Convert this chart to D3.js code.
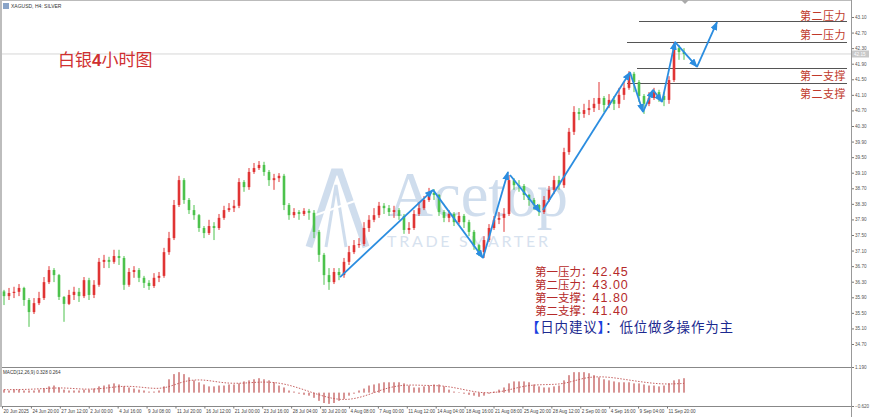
<!DOCTYPE html>
<html><head><meta charset="utf-8">
<script src="https://cdn.jsdelivr.net/npm/d3@7"></script>
<style>body{margin:0;background:#fff;} svg{display:block;}</style>
</head><body><svg id="c" width="870" height="417"></svg>
<script>
// ---------- data ----------
const symbolInfo = "XAGUSD, H4: SILVER";
const titleParts = ["白银", "4", "小时图"];
const firstOpen = 36.05;
const closes = [35.93,36.01,36.04,36.14,35.83,35.52,35.75,35.88,36.29,36.60,
 36.47,35.91,35.73,35.96,36.04,35.93,36.34,35.96,36.22,36.81,
 36.86,36.81,36.96,36.91,36.22,36.55,36.60,36.40,36.27,36.19,
 36.40,36.45,37.06,37.42,38.27,38.91,38.40,38.14,38.01,37.68,
 37.55,37.73,37.68,37.94,38.14,38.19,38.25,38.86,38.73,39.12,
 39.22,39.30,39.12,38.91,38.96,39.02,38.27,38.01,38.09,38.04,
 38.12,38.07,37.58,36.99,36.47,36.29,36.55,36.47,36.81,37.06,
 37.24,37.27,37.68,37.89,38.01,38.25,38.19,38.09,38.14,37.99,
 37.63,37.68,38.04,38.19,38.40,38.58,38.53,38.09,37.94,38.04,
 37.83,37.99,37.83,37.58,37.24,37.06,37.37,37.68,37.89,37.94,
 38.04,38.91,38.78,38.76,38.53,38.40,38.27,38.09,38.40,38.66,
 38.91,38.78,39.63,40.15,40.66,40.61,40.71,40.76,40.87,41.02,
 40.84,40.97,40.87,41.10,41.28,41.64,41.43,41.07,40.87,41.02,
 41.17,41.07,40.97,41.48,42.30,42.20,42.15];
const highs = [36.09,36.14,36.17,36.24,36.17,35.88,35.88,36.04,36.42,36.70,
 36.65,36.50,35.93,36.09,36.17,36.14,36.42,36.40,36.34,36.91,
 36.99,36.94,37.12,37.12,36.96,36.65,36.70,36.65,36.45,36.34,
 36.52,36.55,37.17,37.58,38.40,39.02,38.96,38.45,38.27,38.04,
 37.73,37.89,37.83,38.04,38.25,38.32,38.40,38.96,38.91,39.22,
 39.35,39.40,39.38,39.17,39.07,39.09,39.07,38.32,38.19,38.14,
 38.19,38.17,38.14,37.63,37.04,36.65,36.65,36.65,36.91,37.22,
 37.37,37.42,37.83,38.01,38.19,38.35,38.32,38.27,38.25,38.19,
 38.04,37.83,38.14,38.35,38.50,38.71,38.68,38.55,38.14,38.14,
 38.09,38.09,38.04,37.89,37.63,37.27,37.47,37.78,37.99,38.09,
 38.19,39.04,38.96,38.91,38.81,38.55,38.45,38.30,38.50,38.76,
 39.02,39.02,39.74,40.25,40.81,40.76,40.87,40.97,41.02,41.43,
 41.07,41.12,41.07,41.28,41.43,41.71,41.69,41.48,41.12,41.17,
 41.28,41.23,41.17,41.58,42.46,42.38,42.30];
const lows = [35.70,35.83,35.88,35.93,35.68,35.14,35.47,35.70,35.83,36.24,
 36.29,35.83,35.27,35.70,35.83,35.78,35.88,35.83,35.88,36.17,
 36.65,36.65,36.76,36.73,36.09,36.17,36.40,36.29,36.14,36.09,
 36.14,36.29,36.40,36.99,37.37,38.22,38.30,38.04,37.89,37.58,
 37.42,37.50,37.37,37.63,37.89,38.09,38.09,38.19,38.61,38.66,
 39.07,39.17,39.02,38.76,38.66,38.86,38.14,37.89,37.94,37.89,
 37.99,37.89,37.42,36.81,36.22,36.09,36.24,36.34,36.40,36.73,
 37.01,37.17,37.22,37.58,37.83,37.94,38.04,37.99,37.94,37.89,
 37.53,37.53,37.63,37.99,38.14,38.35,38.40,37.99,37.83,37.83,
 37.73,37.78,37.68,37.47,37.12,36.96,36.91,37.32,37.63,37.78,
 37.58,37.99,38.66,38.61,38.40,38.25,38.14,37.99,38.04,38.35,
 38.55,38.66,38.71,39.56,40.07,40.45,40.51,40.58,40.66,40.71,
 40.66,40.76,40.71,40.76,40.97,41.23,41.17,40.92,40.61,40.81,
 40.97,40.92,40.81,40.87,41.43,42.00,42.00];
const macdHist = [0.14,0.10,0.14,0.14,0.10,0.10,0.10,0.14,0.19,0.29,
 0.33,0.24,0.14,0.10,0.10,0.10,0.14,0.14,0.19,0.29,
 0.33,0.38,0.43,0.38,0.29,0.24,0.19,0.14,0.10,0.05,
 0.05,0.10,0.29,0.62,0.86,0.95,0.86,0.71,0.57,0.48,
 0.38,0.29,0.29,0.33,0.33,0.38,0.38,0.43,0.52,0.57,
 0.62,0.67,0.62,0.57,0.48,0.33,0.24,0.10,0.05,-0.05,
 -0.10,-0.14,-0.24,-0.38,-0.48,-0.52,-0.48,-0.38,-0.29,-0.14,
 -0.05,0.10,0.19,0.33,0.38,0.43,0.48,0.48,0.48,0.48,
 0.43,0.33,0.24,0.24,0.29,0.33,0.38,0.38,0.29,0.14,
 0.05,0.02,-0.05,-0.10,-0.14,-0.19,-0.14,-0.05,0.05,0.14,
 0.24,0.43,0.52,0.52,0.52,0.48,0.38,0.29,0.24,0.24,
 0.29,0.33,0.57,0.81,0.95,0.95,0.95,0.90,0.81,0.71,
 0.62,0.57,0.52,0.48,0.48,0.48,0.43,0.43,0.38,0.33,
 0.33,0.29,0.33,0.43,0.57,0.62,0.67];
const signalStep = 4;
const macdSignal = [0.14,0.14,0.19,0.24,0.14,0.19,0.33,0.24,0.14,0.57,0.62,0.43,0.43,0.52,0.43,0.14,-0.19,-0.38,-0.19,0.19,0.38,0.33,0.33,0.14,-0.05,0.05,0.33,0.38,0.38,0.71,0.76,0.62,0.48,0.38,0.43];
const macdInfo = "MACD(12,26,9) 0.328 0.264";
const macdTicks = [1.19, -0.62];
const priceTicks = [43.10,42.70,42.30,41.90,41.50,41.10,40.70,40.30,39.90,39.50,39.10,38.70,38.30,37.90,37.50,37.10,36.70,36.30,35.90,35.50,35.10,34.70];
const currentPrice = 42.15;
const dateLabels = ["20 Jun 2025","24 Jun 20:00","27 Jun 12:00","2 Jul 00:00","4 Jul 16:00","9 Jul 08:00","11 Jul 20:00","16 Jul 12:00","21 Jul 00:00","23 Jul 16:00","28 Jul 04:00","30 Jul 20:00","4 Aug 08:00","7 Aug 00:00","11 Aug 12:00","14 Aug 04:00","18 Aug 16:00","21 Aug 08:00","25 Aug 20:00","28 Aug 12:00","2 Sep 00:00","4 Sep 16:00","9 Sep 04:00","11 Sep 20:00"];
const levels = [43.00, 42.45, 41.80, 41.40];
const levelNames = ["第二压力", "第一压力", "第一支撑", "第二支撑"];
const levelStartBar = [127, 124.6, 126.6, 124.6];
// arrows: [fromBar, fromPrice, toBar, toPrice]
const arrows = [
 [67.2,36.42,85.8,38.66],[85.8,38.66,95.8,36.91],[95.8,36.91,100.8,39.12],
 [101.2,39.04,107.2,38.09],[107.8,38.14,125.2,41.68],[125.2,41.68,127.8,40.66],
 [127.8,40.66,129.8,41.23],[129.8,41.23,131.6,40.92],[131.6,40.92,134.2,42.46],
 [134.2,42.46,138.6,41.82],[138.6,41.82,142.6,42.97]];
const boxLabels = ["第一压力：","第二压力：","第一支撑：","第二支撑："];
const boxValues = ["42.45","43.00","41.80","41.40"];
const adviceParts = ["【","日内建议","】","：低位做多操作为主"];
const wmMain = "Acetop", wmSub = "TRADE SMARTER";

// ---------- drawing ----------
const svg = d3.select("#c");
const W = 870, H = 417, axisX = 851;
const x = d3.scaleLinear().domain([0, closes.length - 1]).range([4, 684]);
const y = d3.scaleLinear().domain([34.70, 43.10]).range([344, 17]);
const ym = d3.scaleLinear().domain([-0.62, 1.19]).range([406, 367]);
const xd = d3.scalePoint().domain(dateLabels).range([2, 667]);
const cjk = "'Liberation Sans', 'Noto Sans CJK SC', sans-serif";

svg.append("rect").attr("width", W).attr("height", H).attr("fill", "#fff");

// watermark
const wm = svg.append("g").attr("opacity", 0.55);
wm.append("path").attr("d", "M309,247 L334,172 L340,172 L366,247").attr("fill", "none")
  .attr("stroke", "#a9c2e0").attr("stroke-width", 7);
wm.append("path").attr("d", "M326,247 L336,185 L346,247").attr("fill", "none")
  .attr("stroke", "#a9c2e0").attr("stroke-width", 3);
wm.append("path").attr("d", "M316,215 L366,197").attr("stroke", "#fff").attr("stroke-width", 2);
wm.append("text").attr("x", 388).attr("y", 216).attr("font-family", "Liberation Serif")
  .attr("font-size", 64).attr("fill", "#a9c2e0").attr("textLength", 180)
  .attr("lengthAdjust", "spacingAndGlyphs").text(wmMain);
wm.append("text").attr("x", 387).attr("y", 247).attr("font-family", "Lato")
  .attr("font-size", 16).attr("fill", "#b7cbe3").attr("textLength", 161)
  .attr("lengthAdjust", "spacing").text(wmSub);

// current price line
svg.append("line").attr("x1", 2).attr("x2", axisX).attr("y1", y(currentPrice)).attr("y2", y(currentPrice))
  .attr("stroke", "#d6d6d6").attr("stroke-width", 1);

// level lines
levels.forEach((lv, k) => {
  svg.append("line").attr("x1", x(levelStartBar[k])).attr("x2", axisX - 4)
    .attr("y1", Math.round(y(lv)) + 0.5).attr("y2", Math.round(y(lv)) + 0.5)
    .attr("stroke", "#555").attr("stroke-width", 1);
});
const lblY = [16, 35, 76, 94];
levelNames.forEach((t, k) => {
  svg.append("text").attr("x", 846).attr("y", lblY[k] + 4).attr("text-anchor", "end")
    .attr("font-family", "Noto Sans CJK SC").attr("font-size", 11).attr("letter-spacing", 0.5)
    .attr("fill", "#c0392b").text(t);
});

// candles
const bars = closes.map((c, i) => ({ i, o: i === 0 ? firstOpen : closes[i - 1], h: highs[i], l: lows[i], c }));
const cg = svg.append("g");
bars.forEach(b => {
  const up = b.c >= b.o;
  const col = up ? "#e03434" : "#4cc24c";
  cg.append("line").attr("x1", x(b.i)).attr("x2", x(b.i)).attr("y1", y(b.h)).attr("y2", y(b.l))
    .attr("stroke", col).attr("stroke-width", 1);
  const top = y(Math.max(b.o, b.c)), bot = y(Math.min(b.o, b.c));
  cg.append("rect").attr("x", x(b.i) - 1.3).attr("width", 2.6).attr("y", top)
    .attr("height", Math.max(1, bot - top)).attr("fill", col);
});

// arrows
const defs = svg.append("defs");
defs.append("marker").attr("id", "ah").attr("markerUnits", "userSpaceOnUse")
  .attr("markerWidth", 9).attr("markerHeight", 7).attr("refX", 8).attr("refY", 3.5)
  .attr("orient", "auto").append("path").attr("d", "M0,0 L9,3.5 L0,7 Z").attr("fill", "#2b8de0");
arrows.forEach(a => {
  svg.append("line").attr("x1", x(a[0])).attr("y1", y(a[1])).attr("x2", x(a[2])).attr("y2", y(a[3]))
    .attr("stroke", "#2b8de0").attr("stroke-width", 1.8).attr("marker-end", "url(#ah)");
});

// title
const tt = svg.append("text").attr("x", 58).attr("y", 66).attr("font-family", "Noto Sans CJK SC")
  .attr("font-size", 17).attr("fill", "#d03030");
tt.append("tspan").text(titleParts[0]);
tt.append("tspan").attr("font-weight", "bold").attr("font-family", "Liberation Sans").text(titleParts[1]);
tt.append("tspan").text(titleParts[2]);

// symbol info
svg.append("rect").attr("x", 3).attr("y", 3).attr("width", 6).attr("height", 6).attr("fill", "#8aa4c8");
svg.append("text").attr("x", 11).attr("y", 8).attr("font-family", "Liberation Sans").attr("font-size", 5)
  .attr("fill", "#333").text(symbolInfo);

// info box
const boxBase = [275.5, 288.8, 302.1, 315.4];
boxLabels.forEach((t, k) => {
  const tx = svg.append("text").attr("x", 535).attr("y", boxBase[k]).attr("fill", "#b52a2a")
    .attr("font-family", cjk).attr("font-size", 11.5);
  tx.append("tspan").text(t);
  tx.append("tspan").attr("font-size", 12.5).attr("letter-spacing", 1).text(boxValues[k]);
});
const adv = svg.append("text").attr("x", 526).attr("y", 331.5).attr("font-family", cjk)
  .attr("font-size", 13.5).attr("letter-spacing", 0.8).attr("fill", "#1c2a90");
adv.append("tspan").attr("fill", "#1a3fe0").attr("font-weight", "bold").text(adviceParts[0]);
adv.append("tspan").text(adviceParts[1]);
adv.append("tspan").attr("fill", "#1a3fe0").attr("font-weight", "bold").text(adviceParts[2]);
adv.append("tspan").text(adviceParts[3]);

// MACD panel
svg.append("line").attr("x1", 0).attr("x2", axisX).attr("y1", 367.5).attr("y2", 367.5).attr("stroke", "#888");
svg.append("line").attr("x1", 0).attr("x2", axisX).attr("y1", 406.5).attr("y2", 406.5).attr("stroke", "#888");
const mg = svg.append("g");
macdHist.forEach((v, i) => {
  mg.append("rect").attr("x", x(i) - 0.75).attr("width", 1.5)
    .attr("y", Math.min(ym(v), ym(0))).attr("height", Math.max(0.5, Math.abs(ym(v) - ym(0))))
    .attr("fill", "#c25858").attr("opacity", 0.85);
});
const sigLine = d3.line().x((d, k) => x(k * signalStep)).y(d => ym(d)).curve(d3.curveBasis);
svg.append("path").datum(macdSignal).attr("d", sigLine).attr("fill", "none")
  .attr("stroke", "#c05050").attr("stroke-width", 0.9).attr("stroke-dasharray", "1.5,1.5");
svg.append("text").attr("x", 3).attr("y", 374).attr("font-family", "Liberation Sans").attr("font-size", 4.6)
  .attr("fill", "#333").text(macdInfo);

// right price axis
const ra = svg.append("g").attr("transform", `translate(${axisX},0)`)
  .call(d3.axisRight(y).tickValues(priceTicks).tickSize(3).tickFormat(d3.format(".2f")));
ra.select(".domain").remove();
ra.selectAll("line").attr("stroke", "#777");
ra.selectAll("text").attr("font-family", "Liberation Sans").attr("font-size", 4.6).attr("fill", "#555").attr("x", 4);

// current price box
svg.append("rect").attr("x", axisX + 1).attr("y", y(currentPrice) - 3.5).attr("width", 17).attr("height", 7).attr("fill", "#c8c8c8");
svg.append("text").attr("x", axisX + 3).attr("y", y(currentPrice) + 1.8).attr("font-family", "Liberation Sans")
  .attr("font-size", 4.6).attr("fill", "#fff").text(currentPrice.toFixed(2));

// MACD axis
const ma = svg.append("g").attr("transform", `translate(${axisX},0)`)
  .call(d3.axisRight(ym).tickValues(macdTicks).tickSize(3).tickFormat(d3.format(".3f")));
ma.select(".domain").remove();
ma.selectAll("line").attr("stroke", "#777");
ma.selectAll("text").attr("font-family", "Liberation Sans").attr("font-size", 4.6).attr("fill", "#555").attr("x", 4);

// date axis
const da = svg.append("g").attr("transform", "translate(0,406.5)")
  .call(d3.axisBottom(xd).tickSize(2));
da.select(".domain").remove();
da.selectAll("line").attr("stroke", "#777");
da.selectAll("text").attr("font-family", "Liberation Sans").attr("font-size", 4.6).attr("fill", "#444")
  .attr("text-anchor", "start").attr("x", 1).attr("y", 4).attr("dy", "0.5em");

// frame
svg.append("rect").attr("x", 0).attr("y", 0).attr("width", 2).attr("height", 407).attr("fill", "#bdbdbd");
svg.append("line").attr("x1", 0).attr("x2", axisX).attr("y1", 0.5).attr("y2", 0.5).attr("stroke", "#bbb");
svg.append("line").attr("x1", axisX + 0.5).attr("x2", axisX + 0.5).attr("y1", 0).attr("y2", H).attr("stroke", "#999");
svg.append("path").attr("d", `M681,0 L689,0 L685,4 Z`).attr("fill", "#aaa");
</script></body></html>
